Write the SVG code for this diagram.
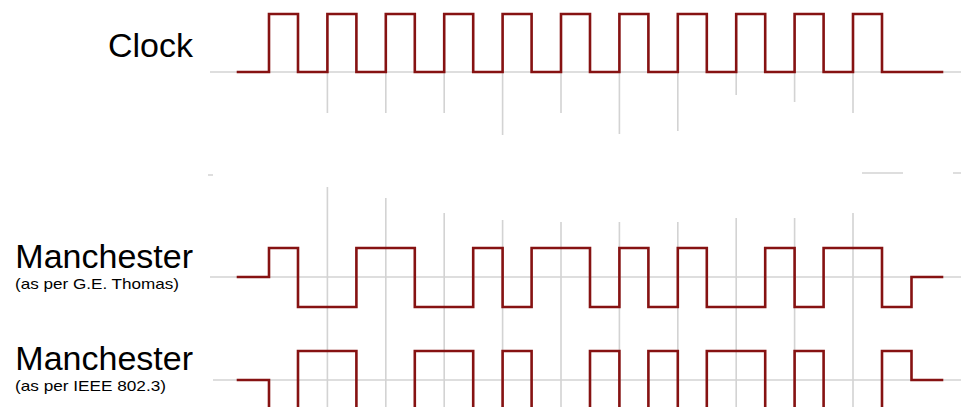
<svg xmlns="http://www.w3.org/2000/svg" width="961" height="407" viewBox="0 0 961 407">
<style>
.grid{stroke:#d3d3d3;stroke-width:1.6;fill:none}
.wave{stroke:#861212;stroke-width:2.6;fill:none;stroke-linejoin:miter;stroke-linecap:square}
.lbl{font-family:"Liberation Sans",Arial,sans-serif;fill:#000}
.big{font-size:34px}
.small{font-size:15px}
</style>
<rect width="961" height="407" fill="#ffffff"/>
<g id="grid">
<path class="grid" d="M210,72H961M210,277H961M213,380H961"/>
<path class="grid" d="M327.4,72V113M385.8,72V113M444.2,72V113M502.6,72V135M561,72V113M619.4,72V134M677.8,72V131M736.2,72V95M794.6,72V102M853,72V113"/>
<path class="grid" d="M862,173H903M953,173H961M208,175H213"/>
<path class="grid" d="M327.4,187V407M385.8,198V407M444.2,213V407M502.6,220V407M561,222V407M619.4,222V407M677.8,222V407M736.2,218V407M794.6,218V407M853,213V407"/>
</g>
<g id="labels">
<text class="lbl big" x="193" y="57" text-anchor="end">Clock</text>
<text class="lbl big" x="193" y="268" text-anchor="end">Manchester</text>
<text class="lbl small" x="15" y="289" textLength="164" lengthAdjust="spacingAndGlyphs">(as per G.E. Thomas)</text>
<text class="lbl big" x="193" y="370" text-anchor="end">Manchester</text>
<text class="lbl small" x="15" y="391" textLength="151" lengthAdjust="spacingAndGlyphs">(as per IEEE 802.3)</text>
</g>
<g id="connectors">
<path id="clock" class="wave" d="M238,72H269V14H298V72H327.4V14H356.4V72H385.8V14H414.8V72H444.2V14H473.2V72H502.6V14H531.6V72H561V14H590V72H619.4V14H648.4V72H677.8V14H706.8V72H736.2V14H765.2V72H794.6V14H823.6V72H853V14H882V72H942"/>
<path id="thomas" class="wave" d="M238,277H269V248H298V307H356.4V248H414.8V307H473.2V248H502.6V307H531.6V248H590V307H619.4V248H648.4V307H677.8V248H706.8V307H765.2V248H794.6V307H823.6V248H882V307H911.5V277H942"/>
<path id="ieee" class="wave" d="M238,380H269V412H298V351H356.4V412H414.8V351H473.2V412H502.6V351H531.6V412H590V351H619.4V412H648.4V351H677.8V412H706.8V351H765.2V412H794.6V351H823.6V412H882V351H911.5V380H942"/>
</g>
</svg>
